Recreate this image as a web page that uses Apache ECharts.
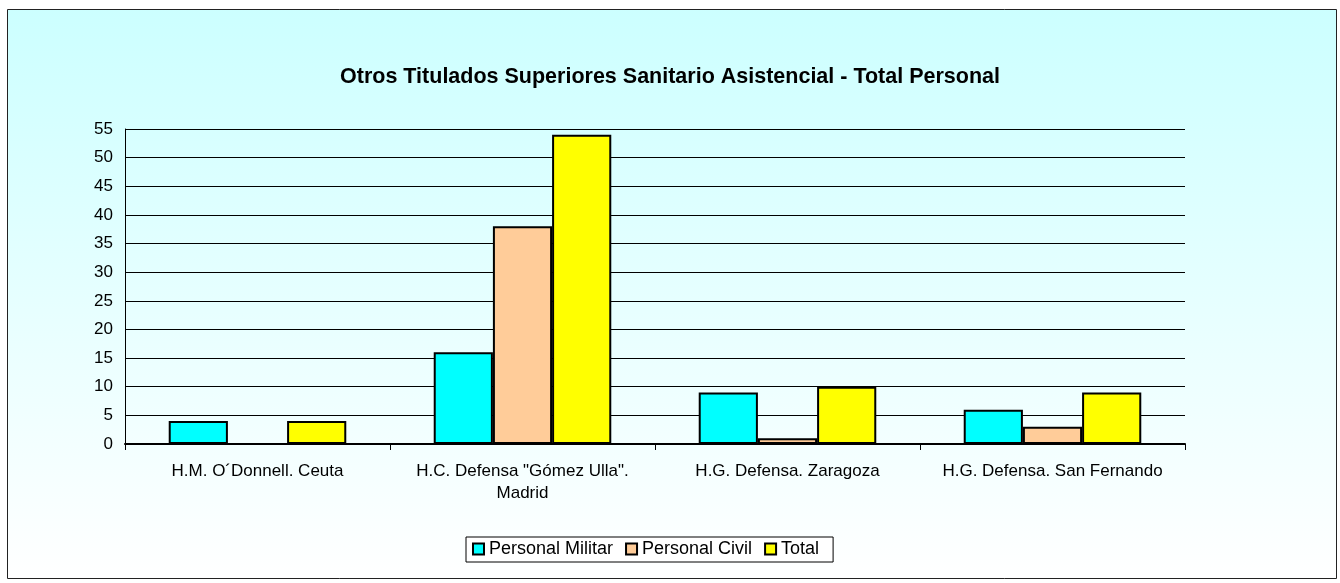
<!DOCTYPE html>
<html><head><meta charset="utf-8">
<script src="https://cdn.jsdelivr.net/npm/echarts@6/dist/echarts.min.js"></script>
<style>html,body{margin:0;padding:0;background:#fff}#c{width:1340px;height:583px}</style>
</head><body><div id="c"></div>
<script>
const categories = ['H.M. O\u00B4Donnell. Ceuta', 'H.C. Defensa "Gómez Ulla".\nMadrid', 'H.G. Defensa. Zaragoza', 'H.G. Defensa. San Fernando'];
const personalMilitar = [4, 16, 9, 6];
const personalCivil = [0, 38, 1, 3];
const total = [4, 54, 10, 9];
const titleText = 'Otros Titulados Superiores Sanitario Asistencial - Total Personal';

const font = 'Arial, "Liberation Sans", sans-serif';
const chart = echarts.init(document.getElementById('c'));
function bar(name, data, color) {
  return { name, type: 'bar', data, barGap: '0%', barCategoryGap: '33%',
    itemStyle: { color, borderColor: '#000', borderWidth: 2 }, emphasis: { disabled: true } };
}
chart.setOption({
  animation: false,
  graphic: [{ type: 'rect', z: -10, shape: { x: 7.5, y: 9.5, width: 1329, height: 569 },
    style: { fill: new echarts.graphic.LinearGradient(0, 0, 0, 1, [{ offset: 0, color: '#CCFFFF' }, { offset: 1, color: '#FFFFFF' }]), stroke: '#222', lineWidth: 1 } }],
  title: { text: titleText, left: 'center', top: 61, textStyle: { fontFamily: font, fontSize: 21.5, fontWeight: 'bold', color: '#000' } },
  grid: { left: 125, right: 155, top: 129, bottom: 139 },
  legend: { top: 537, left: 466, icon: 'rect', itemWidth: 11, itemHeight: 11, itemGap: 12, padding: [3, 14, 4, 6],
    borderColor: '#000', borderWidth: 1, backgroundColor: '#fff',
    textStyle: { fontFamily: font, fontSize: 18, color: '#000' },
    data: ['Personal Militar', 'Personal Civil', 'Total'] },
  xAxis: { type: 'category', data: categories,
    axisLine: { lineStyle: { color: '#000', width: 2 } },
    axisTick: { show: true, length: 6, lineStyle: { color: '#000' } },
    axisLabel: { fontFamily: font, fontSize: 17, color: '#000', margin: 16, lineHeight: 22, interval: 0 } },
  yAxis: { type: 'value', min: 0, max: 55, interval: 5,
    axisLine: { show: true, lineStyle: { color: '#000' } },
    axisTick: { show: false },
    splitLine: { lineStyle: { color: '#000', width: 1 } },
    axisLabel: { fontFamily: font, fontSize: 17, color: '#000', margin: 12 } },
  series: [bar('Personal Militar', personalMilitar, '#00FFFF'), bar('Personal Civil', personalCivil, '#FFCC99'), bar('Total', total, '#FFFF00')]
});
</script></body></html>
